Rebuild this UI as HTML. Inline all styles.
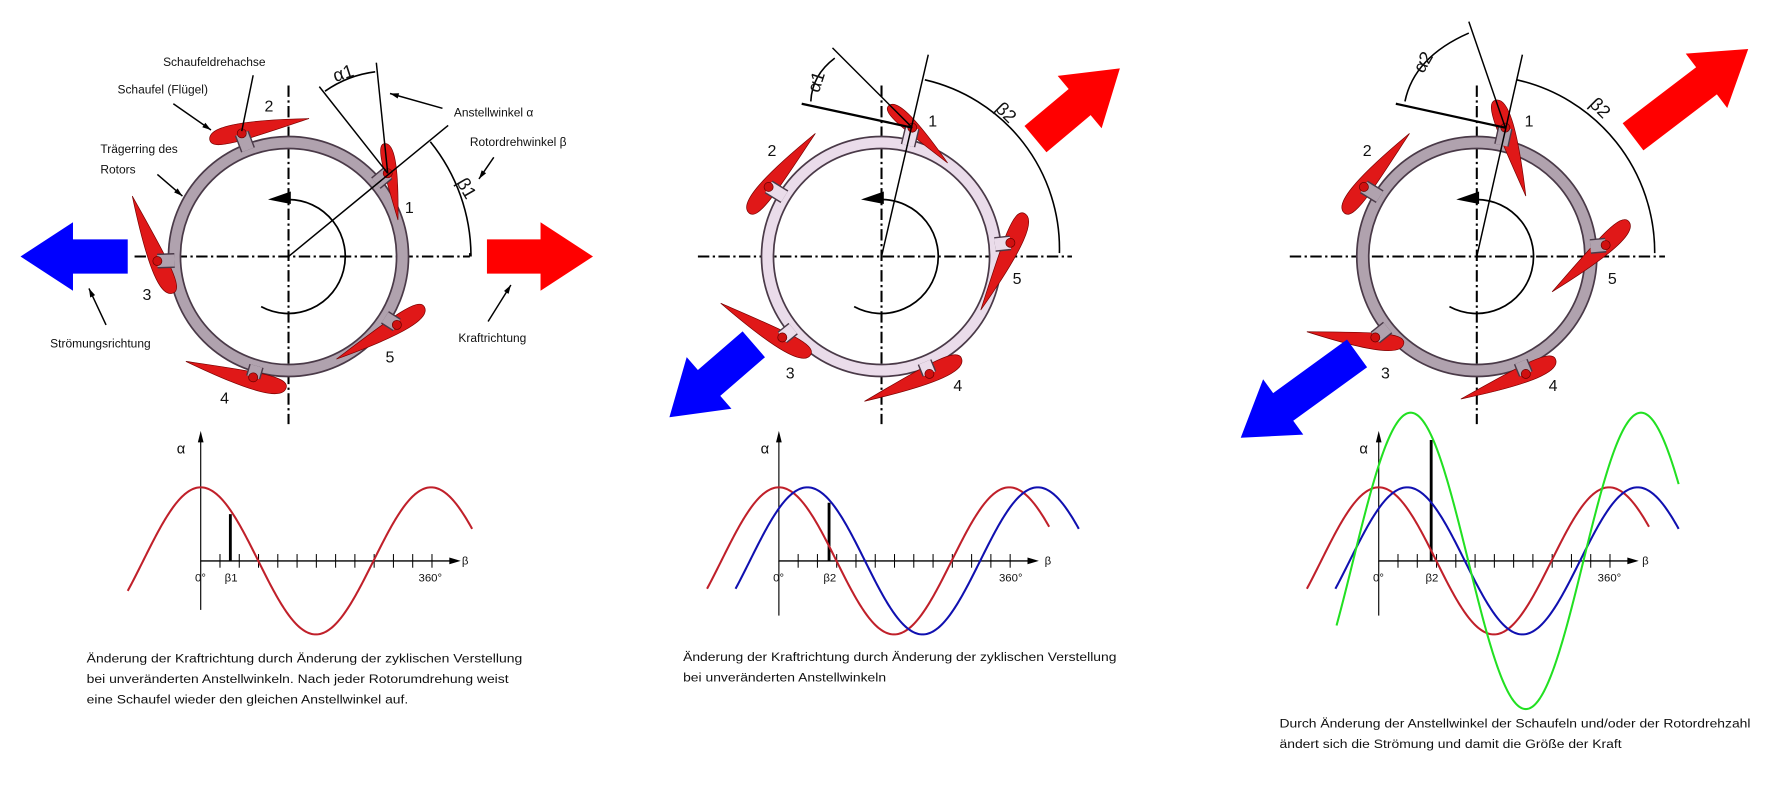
<!DOCTYPE html>
<html><head><meta charset="utf-8"><style>
html,body{margin:0;padding:0;background:#fff;}
svg{display:block;}
text{font-family:"Liberation Sans",sans-serif;fill:#111;}
</style></head><body>
<svg id="s" width="1779" height="798" viewBox="0 0 1560 700" preserveAspectRatio="none" xmlns="http://www.w3.org/2000/svg">
<g id="g"></g>
<!-- Panel 1 labels -->
<g font-size="10.5">
<text x="143" y="58">Schaufeldrehachse</text>
<text x="103" y="82">Schaufel (Flügel)</text>
<text x="88" y="134">Trägerring des</text>
<text x="88" y="152">Rotors</text>
<text x="398" y="102">Anstellwinkel α</text>
<text x="412" y="128">Rotordrehwinkel β</text>
<text x="44" y="305">Strömungsrichtung</text>
<text x="402" y="300">Kraftrichtung</text>
</g>
<g font-size="14">
<text x="232" y="98">2</text><text x="355" y="187">1</text><text x="125" y="263">3</text>
<text x="338" y="318">5</text><text x="193" y="354">4</text>
<text x="814" y="111">1</text><text x="673" y="137">2</text><text x="689" y="332">3</text>
<text x="836" y="343">4</text><text x="888" y="249">5</text>
<text x="1337" y="111">1</text><text x="1195" y="137">2</text><text x="1211" y="332">3</text>
<text x="1358" y="343">4</text><text x="1410" y="249">5</text>
</g>
<g font-size="16">
<text x="0" y="0" transform="translate(294,72) rotate(-18)">α1</text>
<text x="0" y="0" transform="translate(400,160) rotate(60)">β1</text>
<text x="0" y="0" transform="translate(718,82) rotate(-72)">α1</text>
<text x="0" y="0" transform="translate(872,96) rotate(45)">β2</text>
<text x="0" y="0" transform="translate(1248,65) rotate(-60)">α2</text>
<text x="0" y="0" transform="translate(1393,92) rotate(45)">β2</text>
</g>
<!-- chart labels -->
<g font-size="13"><text x="155" y="398">α</text><text x="667" y="398">α</text><text x="1192" y="398">α</text></g>
<g font-size="10">
<text x="405" y="495">β</text><text x="916" y="495">β</text><text x="1440" y="495">β</text>
<text x="171" y="510">0°</text><text x="197" y="510">β1</text><text x="367" y="510">360°</text>
<text x="678" y="510">0°</text><text x="722" y="510">β2</text><text x="876" y="510">360°</text>
<text x="1204" y="510">0°</text><text x="1250" y="510">β2</text><text x="1401" y="510">360°</text>
</g>
<g font-size="10.5">
<text x="76" y="581" textLength="382" lengthAdjust="spacingAndGlyphs">Änderung der Kraftrichtung durch Änderung der zyklischen Verstellung</text>
<text x="76" y="599" textLength="370" lengthAdjust="spacingAndGlyphs">bei unveränderten Anstellwinkeln. Nach jeder Rotorumdrehung weist</text>
<text x="76" y="617" textLength="282" lengthAdjust="spacingAndGlyphs">eine Schaufel wieder den gleichen Anstellwinkel auf.</text>
<text x="599" y="580" textLength="380" lengthAdjust="spacingAndGlyphs">Änderung der Kraftrichtung durch Änderung der zyklischen Verstellung</text>
<text x="599" y="598" textLength="178" lengthAdjust="spacingAndGlyphs">bei unveränderten Anstellwinkeln</text>
<text x="1122" y="638" textLength="413" lengthAdjust="spacingAndGlyphs">Durch Änderung der Anstellwinkel der Schaufeln und/oder der Rotordrehzahl</text>
<text x="1122" y="656" textLength="300" lengthAdjust="spacingAndGlyphs">ändert sich die Strömung und damit die Größe der Kraft</text>
</g>
</svg>
<script>
var NS="http://www.w3.org/2000/svg",G=document.getElementById("g");
function el(t,a){var e=document.createElementNS(NS,t);for(var k in a)e.setAttribute(k,a[k]);G.appendChild(e);return e;}
function line(x1,y1,x2,y2,w,c,d){var a={x1:x1,y1:y1,x2:x2,y2:y2,stroke:c||"#000","stroke-width":w||1.3};if(d)a["stroke-dasharray"]=d;return el("line",a);}
function dd(x1,y1,x2,y2){line(x1,y1,x2,y2,1.8,"#000","10 3 2 3");}
function ring(cx,cy,r,fill){el("circle",{cx:cx,cy:cy,r:r,fill:"none",stroke:"#4a3a48","stroke-width":12});el("circle",{cx:cx,cy:cy,r:r,fill:"none",stroke:fill,"stroke-width":9});}
function blade(cx,cy,r,rx,ry,tx,ty,px,py,fill){
 var dx=tx-rx,dy=ty-ry,L=Math.hypot(dx,dy),a=Math.atan2(dy,dx)*180/Math.PI,w=L*0.13;
 el("path",{d:"M0,0 C0,"+(-w)+" "+(0.3*L)+","+(-w*1.05)+" "+L+",0 C"+(0.35*L)+","+(w*0.55)+" 0,"+(w*0.9)+" 0,0Z",fill:"#e01818",stroke:"#700","stroke-width":0.6,transform:"translate("+rx+","+ry+") rotate("+a+")"});
 var vx=cx-px,vy=cy-py,d=Math.hypot(vx,vy),k=(d-r)/d;
 var ex=px+vx*k,ey=py+vy*k;
 line(px,py,ex,ey,13,"#4a3a48");line(px,py,ex,ey,10.5,fill);
 el("circle",{cx:px,cy:py,r:4,fill:"#d01010",stroke:"#600","stroke-width":0.6});
}
function rot(cx,cy){el("path",{d:"M"+cx+","+(cy-50)+" A50,50 0 1 1 "+(cx-24)+","+(cy+44),fill:"none",stroke:"#000","stroke-width":1.5});
 el("path",{d:"M"+(cx-18)+","+(cy-50)+" L"+(cx+2)+","+(cy-57)+" L"+(cx+2)+","+(cy-46)+"Z",fill:"#000"});}
function arrow(tx,ty,sx,sy,col){var dx=tx-sx,dy=ty-sy,L=Math.hypot(dx,dy),ux=dx/L,uy=dy/L,nx=-uy,ny=ux,h=46,bw=15,hw=30;
 var hx=tx-ux*h,hy=ty-uy*h,p=[[tx,ty],[hx+nx*hw,hy+ny*hw],[hx+nx*bw,hy+ny*bw],[sx+nx*bw,sy+ny*bw],[sx-nx*bw,sy-ny*bw],[hx-nx*bw,hy-ny*bw],[hx-nx*hw,hy-ny*hw]];
 el("polygon",{points:p.map(function(q){return q.join(",")}).join(" "),fill:col});}
function arc(cx,cy,r,a1,a2){var r1=a1*Math.PI/180,r2=a2*Math.PI/180;el("path",{d:"M"+(cx+r*Math.cos(r1))+","+(cy-r*Math.sin(r1))+" A"+r+","+r+" 0 0 1 "+(cx+r*Math.cos(r2))+","+(cy-r*Math.sin(r2)),fill:"none",stroke:"#000","stroke-width":1.4});}
function ptr(x1,y1,x2,y2){line(x1,y1,x2,y2,1.3);var a=Math.atan2(y2-y1,x2-x1),l=8;el("polygon",{points:x2+","+y2+" "+(x2-l*Math.cos(a-0.3))+","+(y2-l*Math.sin(a-0.3))+" "+(x2-l*Math.cos(a+0.3))+","+(y2-l*Math.sin(a+0.3)),fill:"#000"});}
function curve(x0,x1,ox,oy,amp,shift,col,w){var d="";for(var x=x0;x<=x1;x+=1){var y=oy-amp*Math.cos((x-ox-shift)/202*2*Math.PI);d+=(x==x0?"M":"L")+x+","+y.toFixed(2);}el("path",{d:d,fill:"none",stroke:col,"stroke-width":w||1.8});}
function chart(ox,oy,yb,bx,bt){line(ox,oy+0.5,ox,382,1);el("polygon",{points:ox+",378 "+(ox-2.5)+",388 "+(ox+2.5)+",388",fill:"#000"});line(ox,oy,ox,yb,1);
 line(ox,oy,ox+222,oy,1.2);el("polygon",{points:(ox+228)+","+oy+" "+(ox+218)+","+(oy-3)+" "+(ox+218)+","+(oy+3),fill:"#000"});
 for(var i=1;i<=12;i++){var x=ox+i*16.9;line(x,oy-6,x,oy+6,0.9);}
 line(bx,oy,bx,bt,2.5);}
/* ===== Panel 1 ===== */
var c1x=253,c1y=225;
dd(118,c1y,412,c1y);dd(c1x,75,c1x,372);
ring(c1x,c1y,100,"#b0a2ae");
blade(c1x,c1y,100,337,126,349,193,340,152,"#b0a2ae");
blade(c1x,c1y,100,184,123,271,104,212,117,"#b0a2ae");
blade(c1x,c1y,100,152,257,116,172,138,229,"#b0a2ae");
blade(c1x,c1y,100,251,340,163,317,222,331,"#b0a2ae");
blade(c1x,c1y,100,372,269,295,315,348,285,"#b0a2ae");
rot(c1x,c1y);
line(c1x,c1y,393,110);line(340,152,330,55);line(340,152,280,76);
arc(c1x,c1y,160,39,0);line(412,c1y,412,222,1.4);
el("path",{d:"M285,80 Q305,66 329,63",fill:"none",stroke:"#000","stroke-width":1.4});
arrow(18,225,112,225,"#0000ff");arrow(520,225,427,225,"#ff0000");
ptr(388,95,342,82);ptr(433,138,420,157);ptr(428,282,448,250);ptr(93,285,78,253);ptr(138,153,160,172);ptr(152,91,185,114);line(222,66,212,115,1.3);
/* ===== Panel 2 ===== */
var c2x=773,c2y=225;
dd(612,c2y,940,c2y);dd(c2x,75,c2x,372);
ring(c2x,c2y,100,"#eadcea");
blade(c2x,c2y,100,779,93,831,143,800,112,"#eadcea");
blade(c2x,c2y,100,657,187,715,117,674,164,"#eadcea");
blade(c2x,c2y,100,711,311,632,266,686,296,"#eadcea");
blade(c2x,c2y,100,843,314,758,352,815,328,"#eadcea");
blade(c2x,c2y,100,898,187,860,272,886,213,"#eadcea");
rot(c2x,c2y);
line(c2x,c2y,814,48);line(703,91,800,112,2);line(730,42,800,112);
el("path",{d:"M732,51 Q712,66 711,89",fill:"none",stroke:"#000","stroke-width":1.4});
el("path",{d:"M811,70 A152,152 0 0 1 929,222",fill:"none",stroke:"#000","stroke-width":1.4});
arrow(982,60,908,122,"#ff0000");arrow(587,366,661,302,"#0000ff");
/* ===== Panel 3 ===== */
var c3x=1295,c3y=225;
dd(1131,c3y,1460,c3y);dd(c3x,75,c3x,372);
ring(c3x,c3y,100,"#b0a2ae");
blade(c3x,c3y,100,1311,88,1338,172,1320,112,"#b0a2ae");
blade(c3x,c3y,100,1179,187,1236,117,1196,164,"#b0a2ae");
blade(c3x,c3y,100,1231,301,1146,291,1206,296,"#b0a2ae");
blade(c3x,c3y,100,1364,315,1281,350,1338,328,"#b0a2ae");
blade(c3x,c3y,100,1428,194,1361,256,1408,215,"#b0a2ae");
rot(c3x,c3y);
line(c3x,c3y,1335,48);line(1224,91,1320,112,2);line(1288,19,1320,112);
el("path",{d:"M1288,29 Q1240,50 1232,89",fill:"none",stroke:"#000","stroke-width":1.4});
el("path",{d:"M1330,70 A155,155 0 0 1 1451,222",fill:"none",stroke:"#000","stroke-width":1.4});
arrow(1533,43,1432,120,"#ff0000");arrow(1088,384,1190,310,"#0000ff");
/* ===== Charts ===== */
chart(176,492,535,202,451);curve(112,414,176,492,64.5,0,"#c0202a");
chart(683,492,540,727,441);curve(620,920,683,492,64.5,0,"#c0202a");curve(645,946,683,492,64.5,25,"#1010b0");
chart(1209,492,540,1255,386);curve(1146,1446,1209,492,64.5,0,"#c0202a");curve(1171,1472,1209,492,64.5,25,"#1010b0");curve(1172,1472,1209,492,130,28,"#22e022");
</script>
</body></html>
